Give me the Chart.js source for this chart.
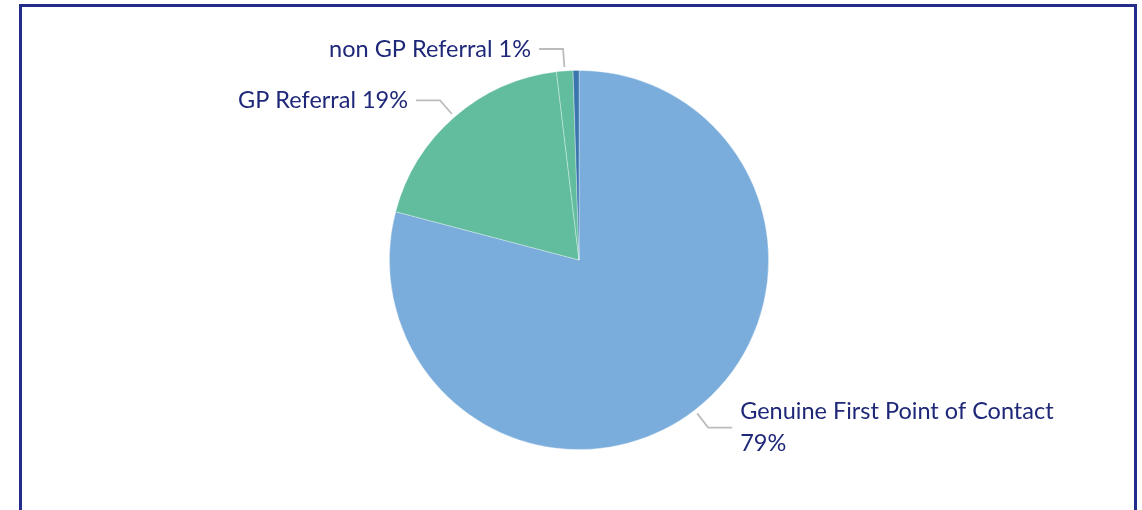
<!DOCTYPE html>
<html>
<head>
<meta charset="utf-8">
<script src="https://cdn.jsdelivr.net/npm/chart.js@4"></script>
<style>
	html, body { margin: 0; padding: 0; background: #fff; }
	#wrap { position: relative; width: 1142px; height: 510px; overflow: hidden; }
	#frame { position: absolute; left: 19px; top: 4px; width: 1112px; height: 503px;
		border: 3px solid #232c8a; border-bottom: 1px solid #7d82b8; }
	canvas { position: absolute; left: 0; top: 0; }
</style>
</head>
<body>
<div id="wrap">
	<div id="frame"></div>
	<canvas id="pieCanvas" width="1142" height="510"></canvas>
</div>
<script>

var labels = ["Genuine First Point of Contact", "GP Referral", "non GP Referral", "Other"];
var values = [79.1, 19.0, 1.4, 0.5];	// 조각 크기
var shownPct = ["79%", "19%", "1%", ""];	// 라벨에 표시되는 퍼센트
var colors = ["#7aaddc", "#62bd9f", "#62bd9f", "#3a76ae"];

var labelFont = "23.5px Lato, 'Open Sans', sans-serif";
var labelColor = "#1f2878";

var leaderPlugin = {	// 라벨 + 지시선
	id: "leaders",
	afterDatasetsDraw: function(chart) {
		var ctx = chart.ctx;
		var meta = chart.getDatasetMeta(0);
		ctx.save();
		ctx.font = labelFont;
		ctx.textBaseline = "middle";
		meta.data.forEach(function(arc, i) {
			if (!shownPct[i]) return;
			var p = arc.getProps(["x", "y", "startAngle", "endAngle", "outerRadius"], true);
			var mid = (p.startAngle + p.endAngle) / 2;
			var cos = Math.cos(mid), sin = Math.sin(mid);
			var r = p.outerRadius;
			var x1 = p.x + cos * (r + 4), y1 = p.y + sin * (r + 4);
			var x2 = p.x + cos * (r + 22), y2 = p.y + sin * (r + 22);
			var dir = cos >= 0 ? 1 : -1;
			var x3 = x2 + dir * 24;

			ctx.strokeStyle = "#bcbcbc";
			ctx.lineWidth = 1.8;
			ctx.beginPath();
			ctx.moveTo(x1, y1);
			ctx.lineTo(x2, y2);
			ctx.lineTo(x3, y2);
			ctx.stroke();

			ctx.fillStyle = labelColor;
			ctx.textAlign = dir > 0 ? "left" : "right";
			var tx = x3 + dir * 8;
			if (i === 0) {	// 두 줄 라벨
				ctx.fillText(labels[i], tx, y2 - 16);
				ctx.fillText(shownPct[i], tx, y2 + 16);
			} else {
				ctx.fillText(labels[i] + " " + shownPct[i], tx, y2);
			}
		});
		ctx.restore();
	}
};

var ctx = document.getElementById("pieCanvas").getContext("2d");

new Chart(ctx, {
	type: "pie",
	data: {
		labels: labels,
		datasets: [{
			data: values,
			backgroundColor: colors,
			borderColor: "rgba(255,255,255,0.4)",
			borderWidth: 0.8
		}]
	},
	options: {
		responsive: false,
		animation: false,
		layout: { padding: { left: 16, right: 0, top: 70, bottom: 60 } },
		plugins: {
			legend: { display: false },
			tooltip: { enabled: false }
		}
	},
	plugins: [leaderPlugin]
});
</script>
</body>
</html>
